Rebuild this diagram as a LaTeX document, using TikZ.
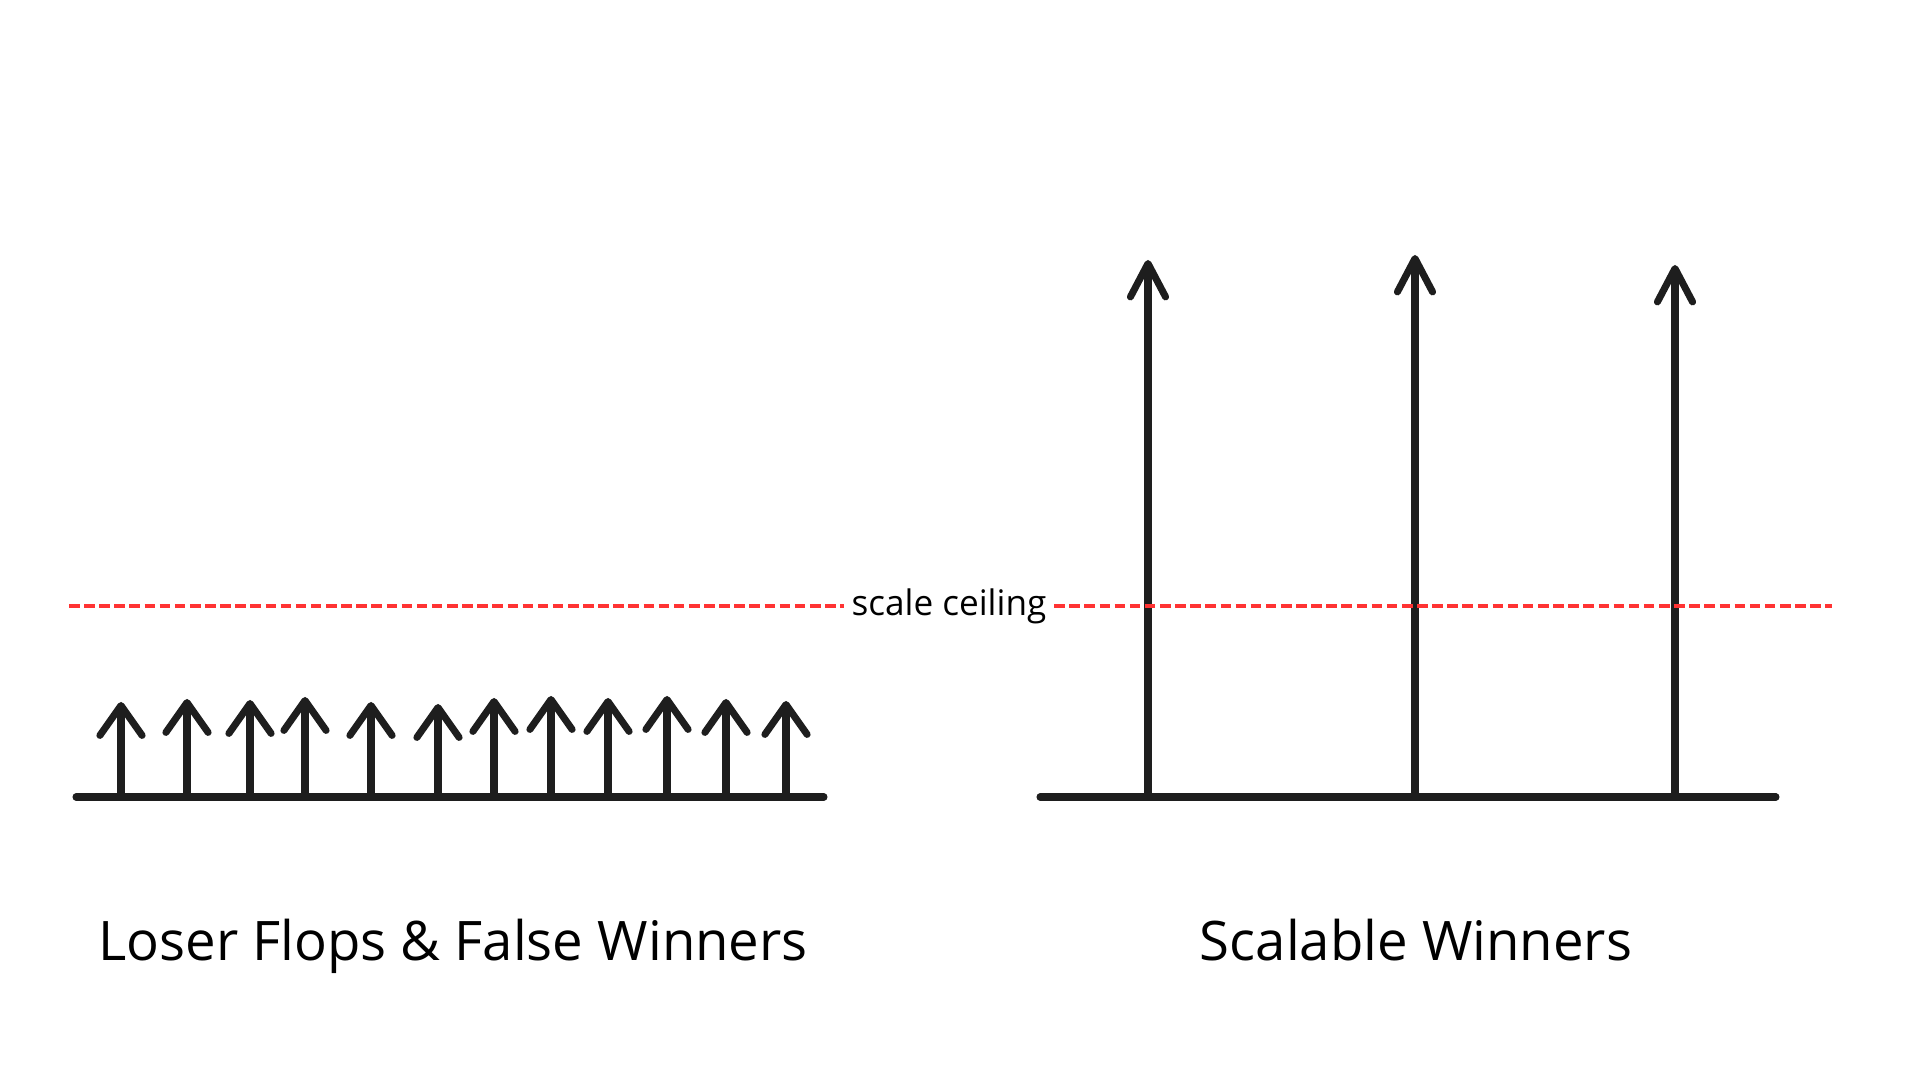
\documentclass[tikz,border=0pt]{standalone}
\usepackage{fontspec}
\setmainfont{Open Sans}
\usetikzlibrary{arrows.meta,positioning}
\definecolor{ceilred}{RGB}{255,51,51}
\definecolor{inkblack}{RGB}{30,30,30}

\begin{document}
\begin{tikzpicture}[x=0.01cm,y=-0.01cm,
      ground/.style={draw=inkblack,line width=2pt,line cap=round},
      small/.style={draw=inkblack,line width=2pt,line cap=round,
        -{Straight Barb[length=8.5pt,width=12pt,line width=2pt,round]}},
      tall/.style={draw=inkblack,line width=2pt,line cap=round,
        -{Straight Barb[length=9.5pt,width=10pt,line width=2pt,round]}},
      ceiling/.style={draw=ceilred,line width=0.9pt,dash pattern=on 3pt off 1.3pt},
      caption/.style={anchor=base,font=\fontsize{15.5}{18}\selectfont}]
    \useasboundingbox (0,0) rectangle (1920,1080);
    % Left baseline with small arrows
    \coordinate (lg0) at (76,797);
    \coordinate (lg1) at (824,797);
    \draw[ground] (lg0)--(lg1);
    \foreach \i/\x/\t in {1/121/702,2/187/699,3/250/700,4/305/697,5/371/702,6/438/704,
                          7/494/698,8/551/696,9/608/698,10/667/696,11/726/699,12/786/701}{
      \coordinate (sb\i) at (\x,797);
      \coordinate (st\i) at (\x,\t);
      \draw[small] (sb\i)--(st\i);
    }
    % Right baseline with tall arrows
    \coordinate (rg0) at (1040,797);
    \coordinate (rg1) at (1776,797);
    \draw[ground] (rg0)--(rg1);
    \foreach \i/\x/\t in {1/1148/260,2/1415/255,3/1675/265}{
      \coordinate (tb\i) at (\x,797);
      \coordinate (tt\i) at (\x,\t);
      \draw[tall] (tb\i)--(tt\i);
    }
    % Scale ceiling
    \node[font=\fontsize{10}{12}\selectfont,inner sep=2pt,anchor=base] (ceil) at (949,616) {scale ceiling};
    \coordinate (cl) at (69,606);
    \coordinate (cr) at (1832,606);
    \draw[ceiling] (cl)--(cl-|ceil.west);
    \draw[ceiling] (cr-|ceil.east)--(cr);
    % Captions
    \node[caption] (lcap) at (453,961) {Loser Flops \& False Winners};
    \node[caption] (rcap) at (1416,961) {Scalable Winners};
  \end{tikzpicture}
\end{document}
